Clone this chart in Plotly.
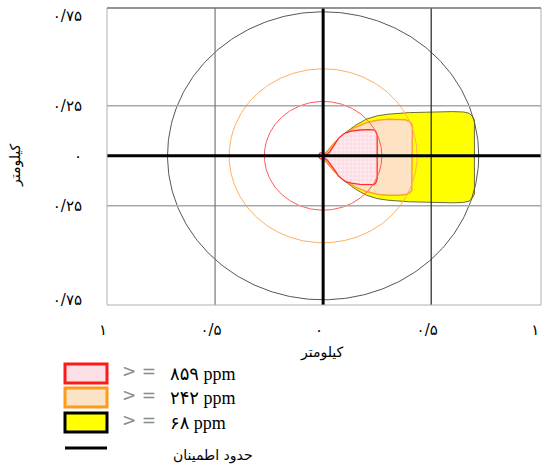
import numpy as np
import plotly.graph_objects as go

# ---------------- data (km) ----------------
# threat-zone footprints: downwind distance and half-width
yellow_dist = [0.0, 0.01, 0.03, 0.05, 0.08, 0.1, 0.15, 0.2, 0.25, 0.3, 0.4, 0.5, 0.6, 0.65, 0.675, 0.69, 0.70]
yellow_half = [0.0, 0.02, 0.045, 0.07, 0.1, 0.12, 0.16, 0.19, 0.207, 0.215, 0.223, 0.227, 0.228, 0.226, 0.22, 0.205, 0.185]

orange_dist = [0.0, 0.02, 0.05, 0.1, 0.15, 0.2, 0.25, 0.3, 0.35, 0.38, 0.4, 0.41, 0.413]
orange_half = [0.0, 0.03, 0.07, 0.115, 0.15, 0.172, 0.185, 0.19, 0.19, 0.187, 0.178, 0.165, 0.15]

red_dist = [0.0, 0.02, 0.03, 0.045, 0.06, 0.07, 0.09, 0.105, 0.13, 0.17, 0.21, 0.235, 0.243, 0.248, 0.25]
red_half = [0.0, 0.015, 0.025, 0.05, 0.075, 0.093, 0.112, 0.122, 0.13, 0.136, 0.138, 0.137, 0.13, 0.12, 0.11]

plume_center = -0.007      # slight downward offset of plume axis
source_loop_radius = 0.015

# confidence-line circles
circle_radii = [0.72, 0.435, 0.272]
circle_colors = ["#555555", "#ffb060", "#ff5a5a"]

# ticks
x_tickvals = [-1, -0.5, 0, 0.5, 1]
x_ticktext = ["۱", "۰/۵", "۰", "۰/۵", "۱"]
y_tickvals = [-0.72, -0.25, 0, 0.25, 0.7]
y_ticktext = ["۰/۷۵", "۰/۲۵", "۰", "۰/۲۵", "۰/۷۵"]

legend_labels = ["۸۵۹ ppm", "۲۴۲ ppm", "۶۸ ppm"]
legend_line_label = "حدود اطمینان"
axis_title = "کیلومتر"

XR = [-1.0, 1.008]
YR = [-0.746, 0.739]

# ---------------- figure ----------------
fig = go.Figure()


def zone(dist, half):
    d = np.array(dist)
    h = np.array(half)
    xs = np.concatenate([d, d[::-1], d[:1]])
    ys = np.concatenate([plume_center + h, (plume_center - h)[::-1], [plume_center + h[0]]])
    return xs, ys


xs, ys = zone(yellow_dist, yellow_half)
fig.add_trace(go.Scatter(x=xs, y=ys, mode="lines", fill="toself", fillcolor="#ffff00",
                         line=dict(color="#6e6e3a", width=1), hoverinfo="skip", showlegend=False))
xs, ys = zone(orange_dist, orange_half)
fig.add_trace(go.Scatter(x=xs, y=ys, mode="lines", fill="toself", fillcolor="#fde3c4",
                         line=dict(color="#ffa030", width=1.5), hoverinfo="skip", showlegend=False))
xs, ys = zone(red_dist, red_half)
fig.add_trace(go.Scatter(x=xs, y=ys, mode="lines", fill="toself", fillcolor="#fde0e6",
                         fillpattern=dict(shape="+", bgcolor="#fcdce3", fgcolor="#ffffff",
                                          size=4, solidity=0.2, fillmode="replace"),
                         line=dict(color="#ff2a2a", width=1.3), hoverinfo="skip", showlegend=False))

th = np.linspace(0, 2 * np.pi, 361)
fig.add_trace(go.Scatter(x=-source_loop_radius * 0.4 + source_loop_radius * np.cos(th),
                         y=source_loop_radius * 1.1 * np.sin(th), mode="lines",
                         line=dict(color="#ff2a2a", width=1.3), hoverinfo="skip", showlegend=False))

for r, c in zip(circle_radii, circle_colors):
    fig.add_trace(go.Scatter(x=r * np.cos(th), y=r * np.sin(th), mode="lines",
                             line=dict(color=c, width=1), hoverinfo="skip", showlegend=False))

shapes = []
# grid lines
for yv in [-0.25, 0.25]:
    shapes.append(dict(type="line", xref="x", yref="y", x0=XR[0], x1=XR[1], y0=yv, y1=yv,
                       line=dict(color="#a8a8a8", width=1.5), layer="above"))
shapes.append(dict(type="line", xref="x", yref="y", x0=-0.5, x1=-0.5, y0=YR[0], y1=YR[1],
                   line=dict(color="#777777", width=1.2), layer="above"))
shapes.append(dict(type="line", xref="x", yref="y", x0=0.5, x1=0.5, y0=YR[0], y1=YR[1],
                   line=dict(color="#222222", width=1.2), layer="above"))
# main axes
shapes.append(dict(type="line", xref="x", yref="y", x0=0, x1=0, y0=YR[0], y1=YR[1],
                   line=dict(color="#000000", width=3), layer="above"))
shapes.append(dict(type="line", xref="x", yref="y", x0=XR[0], x1=XR[1], y0=0, y1=0,
                   line=dict(color="#000000", width=3), layer="above"))
# frame
shapes.append(dict(type="rect", xref="paper", yref="paper", x0=0, x1=1, y0=0, y1=1,
                   line=dict(color="#b0b0b0", width=1), layer="above"))
shapes.append(dict(type="line", xref="paper", yref="paper", x0=0, x1=1, y0=1, y1=1,
                   line=dict(color="#555555", width=1.2), layer="above"))

# ---- custom legend (pixel -> paper helper) ----
L, T, PW, PH = 107, 8, 434, 297


def px(x):
    return (x - L) / PW


def py(y):
    return (T + PH - y) / PH


legend_boxes = [
    ("#ff1a1a", "#fde0e6"),
    ("#ff9a1a", "#fde3c6"),
    ("#000000", "#ffff00"),
]
box_tops = [364, 388, 413]
for (lc, fc), top in zip(legend_boxes, box_tops):
    shapes.append(dict(type="rect", xref="paper", yref="paper", x0=px(65), x1=px(107),
                       y0=py(top + 19), y1=py(top), fillcolor=fc, line=dict(color=lc, width=3)))
shapes.append(dict(type="line", xref="paper", yref="paper", x0=px(65), x1=px(107),
                   y0=py(448), y1=py(448), line=dict(color="#000000", width=3)))

annotations = []
for lab, top in zip(legend_labels, box_tops):
    annotations.append(dict(xref="paper", yref="paper", x=px(139), y=py(top + 7), text="> =",
                            showarrow=False, font=dict(size=17, color="#8a8a8a", family="DejaVu Sans"),
                            xanchor="center", yanchor="middle"))
    annotations.append(dict(xref="paper", yref="paper", x=px(168), y=py(top + 10), text=lab,
                            showarrow=False, font=dict(size=18, color="#000000",
                                                       family="Liberation Serif, DejaVu Sans"),
                            xanchor="left", yanchor="middle"))
annotations.append(dict(xref="paper", yref="paper", x=px(213), y=py(455), text=legend_line_label,
                        showarrow=False, font=dict(size=14, color="#000000", family="DejaVu Sans"),
                        xanchor="center", yanchor="middle"))
# axis titles
annotations.append(dict(xref="paper", yref="paper", x=px(322), y=py(352), text=axis_title,
                        showarrow=False, font=dict(size=14, color="#000000", family="DejaVu Sans"),
                        xanchor="center", yanchor="middle"))
annotations.append(dict(xref="paper", yref="paper", x=px(16), y=py(165), text=axis_title,
                        showarrow=False, textangle=-90,
                        font=dict(size=14, color="#000000", family="DejaVu Sans"),
                        xanchor="center", yanchor="middle"))

fig.update_layout(
    width=542, height=468,
    margin=dict(l=107, r=1, t=8, b=163),
    paper_bgcolor="#ffffff", plot_bgcolor="#ffffff",
    showlegend=False,
    shapes=shapes, annotations=annotations,
    xaxis=dict(range=XR, showgrid=False, zeroline=False, showline=False,
               tickmode="array", tickvals=x_tickvals, ticktext=x_ticktext,
               ticks="", ticklabelstandoff=14, ticklabelshift=-4,
               tickfont=dict(size=15, color="#000000", family="DejaVu Sans"), fixedrange=True),
    yaxis=dict(range=YR, showgrid=False, zeroline=False, showline=False,
               tickmode="array", tickvals=y_tickvals, ticktext=y_ticktext,
               ticks="", ticklabelstandoff=24,
               tickfont=dict(size=15, color="#000000", family="DejaVu Sans"), fixedrange=True),
)

fig.write_html("out.html", config={"displayModeBar": False},
               post_script="document.body.style.margin='0';document.body.style.overflow='hidden';")
